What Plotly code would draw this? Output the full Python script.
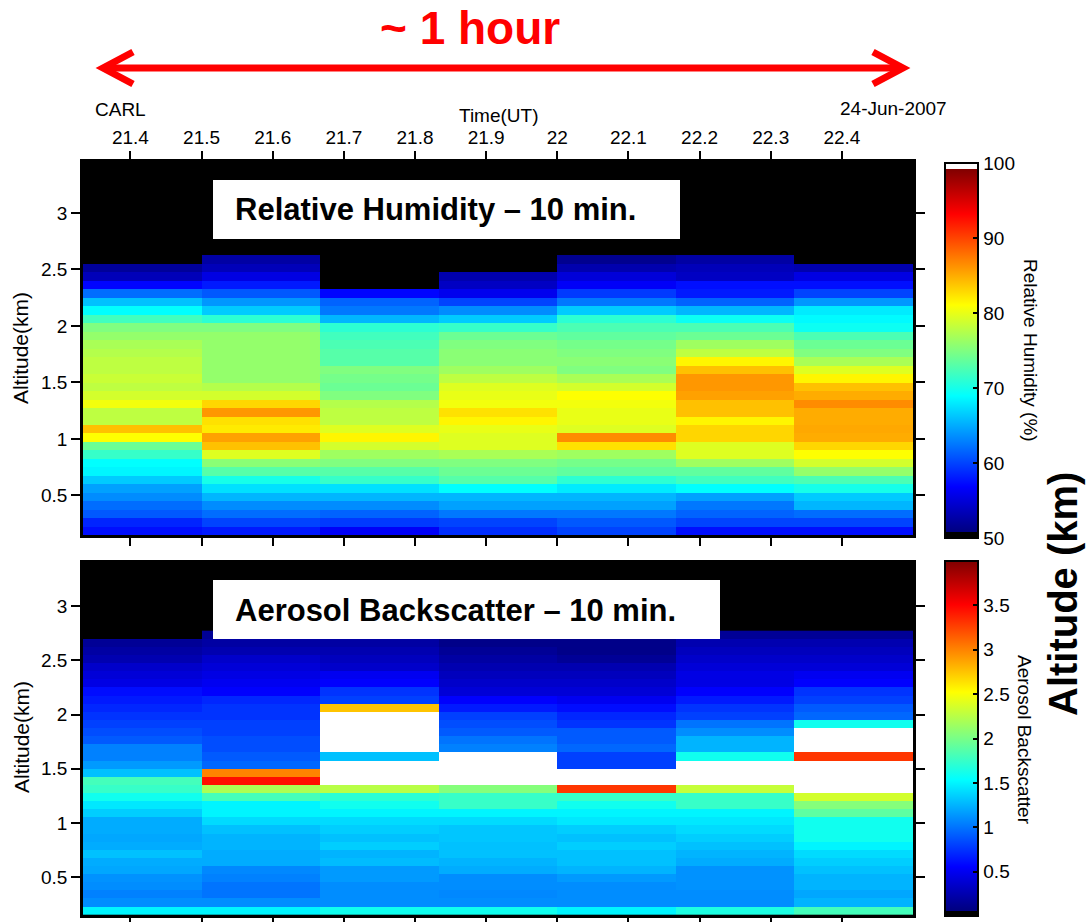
import plotly.graph_objects as go

FIG_W, FIG_H = 1087, 922
FONT = "Liberation Sans, Arial, Helvetica, sans-serif"

# ---------------------------------------------------------------- data
t_start_ut = 21 + 20 / 60      # first 10-minute average starts at 21:20 UT
avg_minutes = 10
alt_start_km = 0.15            # lowest range gate (bottom edge)
gate_km = 0.075                # vertical resolution

time_ticks = [21.4, 21.5, 21.6, 21.7, 21.8, 21.9, 22.0, 22.1, 22.2, 22.3, 22.4]
alt_ticks = [0.5, 1, 1.5, 2, 2.5, 3]
rh_ticks = [50, 60, 70, 80, 90, 100]
bsc_ticks = [0, 0.5, 1, 1.5, 2, 2.5, 3, 3.5]

# Relative humidity (%) profiles, lowest gate first, one per 10-min average
rh_2120 = [57.5, 58.5, 61, 62, 63.5, 64.5, 66.5, 68.5, 69, 71.5, 74, 81, 84, 78, 78, 80.5,
           79, 78, 78.5, 78, 78, 77.5, 77, 76, 75, 72, 69, 66, 62, 57, 53.5, 52]
rh_2130 = [58, 60, 62, 63.5, 65.5, 67.5, 70, 73, 75.5, 79.5, 84, 85.5, 82, 82.5, 86, 83,
           79, 77.5, 76, 76, 76, 76, 76, 76, 75, 71, 66.5, 64, 61, 58, 55.5, 53.5, 52.5]
rh_2140 = [56.5, 59.5, 61.5, 63.5, 65.5, 67.5, 71.5, 73, 75, 76.5, 79, 81.5, 79.5, 78, 78,
           77.5, 75, 74, 74.5, 75, 73, 73, 72.5, 72, 71, 65.5, 62.5, 61.5, 57]
rh_2150 = [59, 60, 62.5, 64.5, 65.5, 69, 73, 74, 75, 77, 79.5, 79.5, 80, 81.5, 82.5, 80.5,
           80, 79.5, 78, 76.5, 75.5, 75.5, 75, 74, 71.5, 66.5, 63.5, 60, 56, 54, 53]
rh_2200 = [60, 61, 62.5, 64.5, 65.5, 68, 71, 73.5, 74.5, 76.5, 82.5, 86.5, 79.5, 80, 80, 80.5,
           81, 79, 77, 75, 75.5, 75, 74.5, 73.5, 72.5, 71, 66.5, 62.5, 59.5, 56.5, 55, 53, 51.5]
rh_2210 = [57.5, 60, 61.5, 62.5, 64.5, 69, 72, 73.5, 76.5, 79.5, 79.5, 83, 83, 81.5, 84, 84,
           85.5, 86, 86, 84, 81.5, 78, 76.5, 74, 72.5, 69.5, 65.5, 61.5, 58, 57.5, 54, 53.5, 52.5]
rh_2220 = [57.5, 60, 62, 65.5, 66.5, 70, 72.5, 76, 79, 81, 83, 85, 85.2, 85, 85, 86.5,
           85, 84, 81.5, 79.5, 77, 75, 74, 72.5, 69.5, 68.75, 68, 64, 60, 57.5, 55.5, 53]

# Aerosol backscatter profiles; CLD marks saturated (cloud) gates above the scale
CLD = 9.9
bsc_max = 4.0
bsc_2120 = [1.5, 1.1, 1.05, 1.1, 1.12, 1.2, 1.22, 1.3, 1.22, 1.2, 1.22, 1.22, 1.35, 1.45, 1.6, 1.75,
            1.8, 1.3, 1.15, 1.05, 1.05, 0.9, 0.85, 0.8, 0.75, 0.7, 0.65, 0.6, 0.45, 0.4, 0.35,
            0.25, 0.2, 0.15]
bsc_2130 = [1.5, 1.1, 1.0, 1.0, 1.05, 1.08, 1.22, 1.22, 1.25, 1.25, 1.3, 1.4, 1.5, 1.5, 1.8, 2.2,
            3.45, 3.0, 0.95, 0.9, 0.85, 0.85, 0.8, 0.8, 0.75, 0.75, 0.7, 0.55, 0.5, 0.45, 0.4,
            0.35, 0.25, 0.2, 0.15]
bsc_2140 = [1.6, 1.1, 1.1, 1.1, 1.15, 1.15, 1.28, 1.25, 1.35, 1.3, 1.35, 1.4, 1.5, 1.6, 1.7, 2.25,
            CLD, CLD, CLD, 1.3, CLD, CLD, CLD, CLD, CLD, 2.75, 0.8, 0.75, 0.55, 0.5, 0.35,
            0.3, 0.25, 0.2, 0.15]
bsc_2150 = [1.6, 1.1, 1.08, 1.1, 1.1, 1.22, 1.25, 1.3, 1.3, 1.32, 1.32, 1.4, 1.5, 1.75, 1.75, 2.05,
            CLD, CLD, CLD, CLD, 1.05, 1.0, 0.9, 0.85, 0.8, 0.65, 0.55, 0.4, 0.35, 0.3, 0.25,
            0.2, 0.15, 0.1, 0.1]
bsc_2200 = [1.5, 1.1, 1.1, 1.1, 1.15, 1.25, 1.3, 1.3, 1.35, 1.3, 1.35, 1.45, 1.5, 1.6, 1.75, 3.3,
            CLD, CLD, 0.8, 0.8, 0.95, 0.9, 0.9, 0.75, 0.7, 0.6, 0.5, 0.4, 0.35, 0.3, 0.25,
            0.15, 0.1, 0.1, 0.1]
bsc_2210 = [1.65, 1.1, 1.1, 1.12, 1.12, 1.12, 1.22, 1.25, 1.3, 1.35, 1.4, 1.45, 1.5, 1.75, 1.75, 2.3,
            CLD, CLD, CLD, 1.6, 1.25, 1.25, 1.1, 1.0, 0.8, 0.75, 0.65, 0.55, 0.45, 0.45, 0.4,
            0.35, 0.3, 0.25, 0.15]
bsc_2220 = [1.8, 1.25, 1.2, 1.25, 1.25, 1.3, 1.35, 1.4, 1.5, 1.6, 1.6, 1.6, 1.9, 2.05, 2.35,
            CLD, CLD, CLD, CLD, 3.3, CLD, CLD, CLD, 1.6, 0.95, 0.9, 0.8, 0.75, 0.55, 0.5, 0.4,
            0.35, 0.3, 0.25, 0.15]

rh_profiles = [rh_2120, rh_2130, rh_2140, rh_2150, rh_2200, rh_2210, rh_2220]
bsc_profiles = [bsc_2120, bsc_2130, bsc_2140, bsc_2150, bsc_2200, bsc_2210, bsc_2220]

# ---------------------------------------------------------------- grids
n_t = len(rh_profiles)
t_edges = [t_start_ut + i * avg_minutes / 60 for i in range(n_t + 1)]
n_gates = max(len(p) for p in rh_profiles + bsc_profiles)
alt_edges = [alt_start_km + k * gate_km for k in range(n_gates + 1)]


def to_grid(profiles, keep, value=None):
    z = [[None] * len(profiles) for _ in range(n_gates)]
    for j, prof in enumerate(profiles):
        for k, v in enumerate(prof):
            if keep(v):
                z[k][j] = v if value is None else value
    return z


rh_z = to_grid(rh_profiles, lambda v: True)
bsc_z = to_grid(bsc_profiles, lambda v: v <= bsc_max)
cloud_z = to_grid(bsc_profiles, lambda v: v > bsc_max, value=1)


# ---------------------------------------------------------------- colours
def jet(t):
    f = lambda x: min(1.0, max(0.0, 1.5 - abs(x)))
    r, g, b = f(4 * t - 3), f(4 * t - 2), f(4 * t - 1)
    return f"rgb({round(255 * r)},{round(255 * g)},{round(255 * b)})"


def jet_scale(lo, hi, n=64):
    return [[lo + (hi - lo) * i / n, jet(i / n)] for i in range(n + 1)]


# RH map: one black level at the bottom, one white level at the top
rh_cs = [[0, "black"], [1 / 66, "black"]] + jet_scale(1 / 66, 65 / 66) + [[65 / 66, "white"], [1, "white"]]
# backscatter map: one black level at the bottom
bsc_cs = [[0, "black"], [1 / 65, "black"]] + jet_scale(1 / 65, 1.0)


def px(x):
    return x / FIG_W


def py(y):
    return 1 - y / FIG_H


fig = go.Figure()

fig.add_trace(go.Heatmap(
    x=t_edges, y=alt_edges, z=rh_z, zmin=50, zmax=100, colorscale=rh_cs,
    xaxis="x", yaxis="y", hoverongaps=False,
    colorbar=dict(x=px(945), xanchor="left", xpad=0, y=py(163), yanchor="top", ypad=0,
                  len=375, lenmode="pixels", thickness=33, thicknessmode="pixels",
                  outlinewidth=2, outlinecolor="black", ticks="inside", ticklen=6,
                  tickwidth=2, tickcolor="black", tickvals=rh_ticks,
                  tickfont=dict(family=FONT, size=19, color="black")),
))

fig.add_trace(go.Heatmap(
    x=t_edges, y=alt_edges, z=bsc_z, zmin=0, zmax=bsc_max, colorscale=bsc_cs,
    xaxis="x2", yaxis="y2", hoverongaps=False,
    colorbar=dict(x=px(945), xanchor="left", xpad=0, y=py(561), yanchor="top", ypad=0,
                  len=355, lenmode="pixels", thickness=33, thicknessmode="pixels",
                  outlinewidth=2, outlinecolor="black", ticks="inside", ticklen=6,
                  tickwidth=2, tickcolor="black", tickvals=bsc_ticks,
                  tickfont=dict(family=FONT, size=19, color="black")),
))

# saturated (cloud) gates drawn white
fig.add_trace(go.Heatmap(
    x=t_edges, y=alt_edges, z=cloud_z, zmin=0, zmax=1,
    colorscale=[[0, "white"], [1, "white"]], showscale=False,
    xaxis="x2", yaxis="y2", hoverongaps=False,
))

axis_common = dict(showgrid=False, zeroline=False, showline=True, linewidth=2.5,
                   linecolor="black", ticks="outside", tickwidth=2, tickcolor="black",
                   tickfont=dict(family=FONT, size=19, color="black"))

fig.update_layout(
    width=FIG_W, height=FIG_H, margin=dict(l=0, r=0, t=0, b=0),
    paper_bgcolor="white", plot_bgcolor="black", showlegend=False,
    font=dict(family=FONT, color="black"),
    xaxis=dict(axis_common, domain=[px(83), px(913)], anchor="y", side="top",
               range=[t_edges[0], t_edges[-1]], tickmode="array", tickvals=time_ticks,
               ticklen=8, mirror="ticks"),
    yaxis=dict(axis_common, domain=[py(535), py(162)], anchor="x",
               range=[alt_start_km, 3.45], tickmode="array", tickvals=alt_ticks,
               ticklen=9, mirror="ticks"),
    xaxis2=dict(axis_common, domain=[px(83), px(913)], anchor="y2", side="bottom",
                range=[t_edges[0], t_edges[-1]], tickmode="array", tickvals=time_ticks,
                ticklen=8, mirror=True, showticklabels=False),
    yaxis2=dict(axis_common, domain=[py(915), py(563)], anchor="x2",
                range=[alt_start_km, 3.4], tickmode="array", tickvals=alt_ticks,
                ticklen=9, mirror="ticks"),
)

# label boxes inside the panels
fig.add_shape(type="rect", xref="paper", yref="paper", x0=px(213), x1=px(680),
              y0=py(239), y1=py(180), fillcolor="white", line=dict(width=0), layer="above")
fig.add_shape(type="rect", xref="paper", yref="paper", x0=px(213), x1=px(720),
              y0=py(639), y1=py(580), fillcolor="white", line=dict(width=0), layer="above")

# double-headed arrow spanning the hour
red = "#ff0000"
ay = 68
fig.add_shape(type="line", xref="paper", yref="paper", x0=px(106), x1=px(900),
              y0=py(ay), y1=py(ay), line=dict(color=red, width=7))
for tip, d in ((103, 1), (903, -1)):
    path = (f"M {px(tip + d * 30)},{py(ay - 16)} L {px(tip)},{py(ay)} "
            f"L {px(tip + d * 30)},{py(ay + 16)}")
    fig.add_shape(type="path", xref="paper", yref="paper", path=path,
                  line=dict(color=red, width=7))


def note(text, x, y, size, angle=0, weight="normal", color="black", xanchor="center"):
    fig.add_annotation(text=text, x=px(x), y=py(y), xref="paper", yref="paper",
                       xanchor=xanchor, yanchor="middle", showarrow=False, textangle=angle,
                       font=dict(family=FONT, size=size, color=color, weight=weight))


note("~ 1 hour", 470, 28, 46, weight="bold", color=red)
note("CARL", 120, 110, 19)
note("Time(UT)", 499, 115, 19)
note("24-Jun-2007", 893, 108, 19)
note("Relative Humidity \u2013 10 min.", 233, 210, 31, weight="bold", xanchor="left")
note("Aerosol Backscatter \u2013 10 min.", 233, 610, 31, weight="bold", xanchor="left")
note("Altitude(km)", 21, 348, 21, angle=-90)
note("Altitude(km)", 21, 737, 21, angle=-90)
note("Relative Humidity (%)", 1030, 350, 19, angle=90)
note("Aerosol Backscatter", 1025, 740, 19, angle=90)
note("Altitude (km)", 1063, 594, 40, angle=-90, weight="bold")

fig.write_html("out.html")
